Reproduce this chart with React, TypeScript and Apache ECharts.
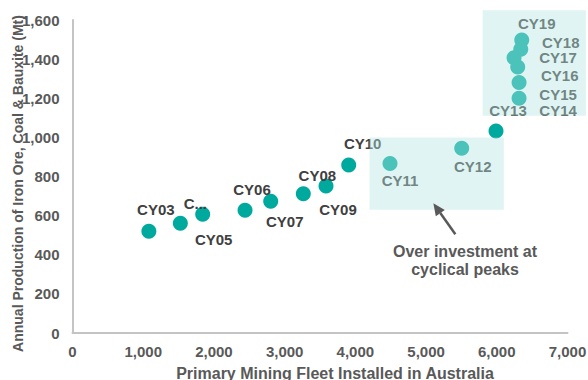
import { useEffect, useRef } from "react";
import * as echarts from "echarts";

// Calendar years plotted
const years = [
  "CY03", "CY04", "CY05", "CY06", "CY07", "CY08", "CY09", "CY10", "CY11",
  "CY12", "CY13", "CY14", "CY15", "CY16", "CY17", "CY18", "CY19",
];
// Primary mining fleet installed (units)
const fleet = [
  1080, 1525, 1841, 2440, 2803, 3264, 3585, 3906, 4490,
  5504, 5989, 6315, 6315, 6296, 6244, 6339, 6353,
];
// Annual production of iron ore, coal & bauxite (Mt)
const production = [
  520, 561, 607, 627, 673, 712, 751, 859, 867,
  944, 1033, 1200, 1281, 1360, 1407, 1450, 1498,
];

// Axis ranges
const xRange = [0, 7000];
const xStep = 1000;
const yRange = [0, 1600];
const yStep = 200;

// Shaded periods of heavy fleet investment, in data units
const shadedZones = [
  { fleetFrom: 4200, fleetTo: 6100, prodFrom: 630, prodTo: 1000 },
  { fleetFrom: 5800, fleetTo: 7260, prodFrom: 1110, prodTo: 1650 },
];

// Call-out text and the arrow pointing at the first shaded zone
const noteLines = ["Over investment at", "cyclical peaks"];
const noteAt = [5551, 369];
const arrowFrom = [5414, 505];
const arrowTo = [5103, 663];

// Point label offsets (px) from each marker's centre
const labelOffsets: [number, number][] = [
  [7, -22], [15, -20], [11, 25], [7, -21], [14, 20], [14, -18], [12, 23],
  [14, -21], [10, 17], [11, 18], [12, -20], [39, 12], [39, 12], [42, 9],
  [44, 0], [40, -7], [15, -16],
];

const FONT = 'Arial, "Liberation Sans", sans-serif';
const TEAL = "#00A99D";

export default function App() {
  const ref = useRef<HTMLDivElement>(null);

  useEffect(() => {
    if (!ref.current) return;
    const chart = echarts.init(ref.current, undefined, { renderer: "svg" });

    const points = years.map((name, i) => {
      const item: any = {
        name,
        value: [fleet[i], production[i]],
        label: { offset: labelOffsets[i] },
      };
      if (name === "CY04") {
        item.label.width = 28;
        item.label.overflow = "truncate";
        item.label.ellipsis = "...";
      }
      return item;
    });

    chart.setOption({
      animation: false,
      grid: {
        left: 72.5,
        right: 20.5,
        top: 20,
        bottom: 47,
        containLabel: false,
        outerBoundsMode: "none",
      },
      xAxis: {
        type: "value",
        min: xRange[0],
        max: xRange[1],
        interval: xStep,
        name: "Primary Mining Fleet Installed in Australia",
        nameLocation: "middle",
        nameGap: 32,
        nameTextStyle: {
          fontFamily: FONT,
          fontWeight: "bold",
          fontSize: 16,
          color: "#595959",
          padding: [0, 0, 0, 30],
        },
        axisLine: { lineStyle: { color: "#C4C4C4", width: 2 } },
        axisTick: { show: false },
        splitLine: { show: false },
        axisLabel: {
          margin: 11,
          fontFamily: FONT,
          fontWeight: "bold",
          fontSize: 15,
          color: "#595959",
          formatter: (v: number) => v.toLocaleString("en-US"),
        },
      },
      yAxis: {
        type: "value",
        min: yRange[0],
        max: yRange[1],
        interval: yStep,
        name: "Annual Production of Iron Ore, Coal & Bauxite (Mt)",
        nameLocation: "middle",
        nameRotate: 90,
        nameGap: 48,
        nameMoveOverlap: false,
        nameTextStyle: {
          fontFamily: FONT,
          fontWeight: "bold",
          fontSize: 14,
          color: "#595959",
          padding: [0, 14, 0, 0],
        },
        axisLine: { show: true, lineStyle: { color: "#C4C4C4", width: 2 } },
        axisTick: { show: false },
        splitLine: { show: false },
        axisLabel: {
          margin: 13,
          fontFamily: FONT,
          fontWeight: "bold",
          fontSize: 15,
          color: "#595959",
          formatter: (v: number) => v.toLocaleString("en-US"),
        },
      },
      series: [
        {
          type: "scatter",
          symbol: "circle",
          symbolSize: 15,
          z: 2,
          itemStyle: { color: TEAL, opacity: 1 },
          label: {
            show: true,
            position: "inside",
            formatter: (p: any) => p.name,
            fontFamily: FONT,
            fontWeight: "bold",
            fontSize: 15,
            color: "#404040",
          },
          emphasis: { disabled: true },
          data: points,
        },
      ],
    });

    // Overlays placed in data space, converted to pixels once the grid exists
    const px = (v: number[]) =>
      chart.convertToPixel({ gridIndex: 0 }, v) as number[];

    const graphics: any[] = shadedZones.map((z) => {
      const a = px([z.fleetFrom, z.prodTo]);
      const b = px([z.fleetTo, z.prodFrom]);
      return {
        type: "rect",
        z: 100,
        silent: true,
        shape: { x: a[0], y: a[1], width: b[0] - a[0], height: b[1] - a[1] },
        style: { fill: "rgba(181,231,226,0.42)" },
      };
    });

    const tail = px(arrowFrom);
    const tip = px(arrowTo);
    const dx = tip[0] - tail[0];
    const dy = tip[1] - tail[1];
    const len = Math.hypot(dx, dy);
    const ux = dx / len;
    const uy = dy / len;
    const headLen = 12;
    const headHalf = 5.5;
    const base = [tip[0] - ux * headLen, tip[1] - uy * headLen];
    graphics.push(
      {
        type: "line",
        z: 101,
        silent: true,
        shape: { x1: tail[0], y1: tail[1], x2: base[0], y2: base[1] },
        style: { stroke: "#595959", lineWidth: 2.5 },
      },
      {
        type: "polygon",
        z: 101,
        silent: true,
        shape: {
          points: [
            tip,
            [base[0] - uy * headHalf, base[1] + ux * headHalf],
            [base[0] + uy * headHalf, base[1] - ux * headHalf],
          ],
        },
        style: { fill: "#595959" },
      }
    );

    const noteCenter = px(noteAt);
    graphics.push({
      type: "text",
      z: 101,
      silent: true,
      x: noteCenter[0],
      y: noteCenter[1],
      style: {
        text: noteLines.join("\n"),
        fontFamily: FONT,
        fontWeight: "bold",
        fontSize: 16,
        lineHeight: 18,
        fill: "#595959",
        align: "center",
        verticalAlign: "middle",
      },
    });

    chart.setOption({ graphic: graphics });

    return () => chart.dispose();
  }, []);

  return (
    <div
      ref={ref}
      style={{ width: 588, height: 380, position: "absolute", left: 0, top: 0 }}
    />
  );
}
